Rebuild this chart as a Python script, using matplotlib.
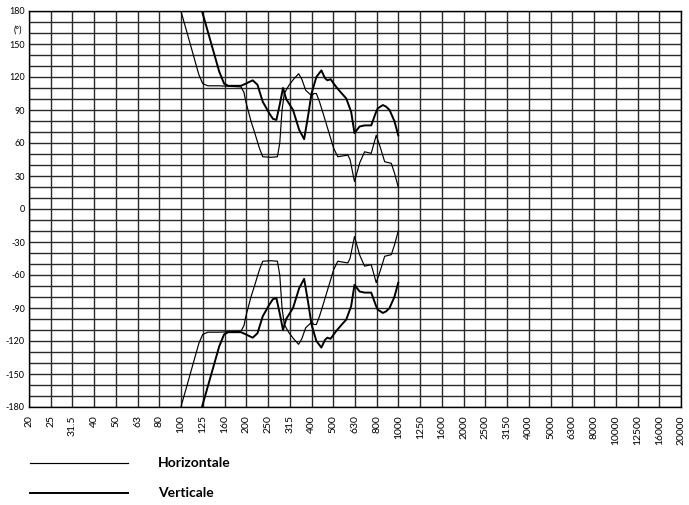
import numpy as np
from matplotlib import pyplot as plt
from matplotlib.lines import Line2D

plt.rcParams['font.family'] = ['Lato', 'DejaVu Sans']

# axe des fréquences (tiers d'octave)
freq_labels = ['20', '25', '31.5', '40', '50', '63', '80', '100', '125', '160',
               '200', '250', '315', '400', '500', '630', '800', '1000', '1250',
               '1600', '2000', '2500', '3150', '4000', '5000', '6300', '8000',
               '10000', '12500', '16000', '20000']
freq_ticks = [20 * 10 ** (i / 10) for i in range(len(freq_labels))]

# phase horizontale (Hz, degrés)
h_freq = [100, 121, 126, 133, 150, 189, 195, 199, 210, 218, 230, 238, 260,
          278, 285, 292, 299, 313, 330, 348, 360, 375, 399, 410, 420, 435,
          451, 484, 505, 527, 586, 600, 629, 665, 700, 751, 792, 830, 866,
          929, 960, 1000]
h_phase = [180, 122, 114, 112, 112, 111, 106, 97.5, 80, 70, 55, 47.5, 47,
           47.5, 60, 90, 105, 112, 118, 123, 118, 108, 103, 105, 105, 97,
           87, 67, 55, 47.5, 49, 45, 25, 42, 52, 50.6, 67, 55, 43,
           41.5, 33, 20]

# phase verticale (Hz, degrés)
v_freq = [125, 150, 158, 165, 189, 199, 214, 225, 238, 255, 265, 275, 285,
          295, 305, 328, 350, 369, 385, 399, 420, 443, 460, 472, 488, 518,
          550, 576, 607, 629, 664, 700, 751, 790, 805, 850, 880, 912, 960,
          1000]
v_phase = [180, 125, 114, 112, 112, 114, 117, 113, 97.5, 87, 82, 81, 95,
           110, 100, 90, 72, 63.5, 85, 105, 120, 126, 119, 117, 118, 111,
           105, 100.6, 88.5, 69, 75, 76, 76, 88, 91.5, 94.5, 93, 90, 80,
           67]

fig = plt.figure(figsize=(6.89, 5.05), dpi=100)
ax = fig.add_axes([29 / 689, 1 - 407 / 505, 652 / 689, 396 / 505])

ax.set_xscale('log')
ax.set_xlim(freq_ticks[0], freq_ticks[-1])
ax.set_ylim(-180, 180)

# grille
for f in freq_ticks:
    ax.axvline(f, color='#2a2a2a', lw=1.0, zorder=1)
for y in range(-180, 181, 10):
    ax.axhline(y, color='#2a2a2a', lw=1.0, zorder=1)

# courbes (symétriques autour de 0)
ax.plot(h_freq, h_phase, color='black', lw=0.85, zorder=3)
ax.plot(h_freq, -np.array(h_phase), color='black', lw=0.85, zorder=3)
ax.plot(v_freq, v_phase, color='black', lw=1.4, zorder=3)
ax.plot(v_freq, -np.array(v_phase), color='black', lw=1.4, zorder=3)

ax.set_xticks(freq_ticks)
ax.set_xticklabels(freq_labels, rotation=90, fontsize=7.5)
ax.xaxis.set_minor_locator(plt.NullLocator())
ax.set_yticks(range(-180, 181, 30))
ax.set_yticklabels([str(v) for v in range(-180, 181, 30)], fontsize=6.5)
ax.tick_params(length=0, pad=3)
ax.tick_params(axis='x', pad=6)

for s in ax.spines.values():
    s.set_color('black')
    s.set_linewidth(1.0)

fig.text(18 / 689, 1 - 30 / 505, '(°)', fontsize=6.5, ha='center', va='center')

# légende
fig.add_artist(Line2D([30 / 689, 128 / 689], [1 - 463 / 505, 1 - 463 / 505],
                      color='black', lw=0.85))
fig.add_artist(Line2D([30 / 689, 128 / 689], [1 - 493 / 505, 1 - 493 / 505],
                      color='black', lw=1.4))
fig.text(158 / 689, 1 - 463 / 505, 'Horizontale', fontsize=10, fontweight='bold',
         va='center')
fig.text(158 / 689, 1 - 493 / 505, 'Verticale', fontsize=10, fontweight='bold',
         va='center')

fig.savefig('out.png', dpi=100)
